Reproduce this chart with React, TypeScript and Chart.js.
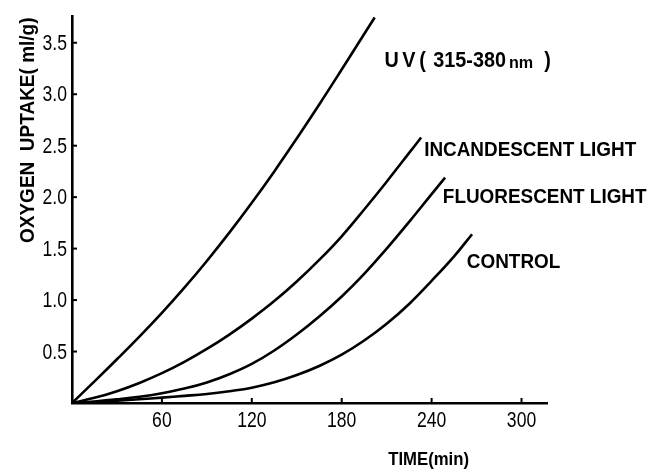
import React, { useEffect, useRef } from "react";
import { Chart, registerables } from "chart.js";

Chart.register(...registerables);

// ---- data ----
const uvTime = [0, 15, 30, 45, 60, 75, 90, 105, 120, 135, 150, 165, 180, 195, 202];
const uvUptake = [0, 0.21, 0.425, 0.645, 0.875, 1.12, 1.38, 1.655, 1.945, 2.25, 2.57, 2.9, 3.24, 3.585, 3.745];

const incTime = [0, 15, 30, 45, 60, 75, 90, 105, 120, 135, 150, 165, 180, 195, 210, 225, 233];
const incUptake = [0, 0.05, 0.115, 0.195, 0.29, 0.4, 0.525, 0.665, 0.82, 0.99, 1.18, 1.39, 1.62, 1.88, 2.15, 2.43, 2.58];

const fluTime = [0, 15, 30, 45, 60, 75, 90, 105, 120, 135, 150, 165, 180, 195, 210, 225, 240, 249];
const fluUptake = [0, 0.015, 0.035, 0.06, 0.095, 0.14, 0.2, 0.28, 0.38, 0.51, 0.665, 0.84, 1.035, 1.255, 1.5, 1.76, 2.03, 2.19];

const ctlTime = [0, 15, 30, 45, 60, 75, 90, 105, 120, 135, 150, 165, 180, 195, 210, 225, 240, 255, 267];
const ctlUptake = [0, 0.01, 0.023, 0.037, 0.052, 0.069, 0.088, 0.115, 0.149, 0.201, 0.272, 0.36, 0.47, 0.607, 0.77, 0.962, 1.187, 1.425, 1.64];

const xTickValues = [60, 120, 180, 240, 300];
const yTickValues = [0.5, 1.0, 1.5, 2.0, 2.5, 3.0, 3.5];
const xMin = 0;
const xMax = 317;
const yMin = 0;
const yMax = 3.76;

const seriesNames = ["UV( 315-380 nm)", "INCANDESCENT LIGHT", "FLUORESCENT LIGHT", "CONTROL"];
const nameTime = [208.5, 235, 247.5, 263.5];
const nameUptake = [3.32, 2.46, 2.0, 1.37];

const xAxisTitle = "TIME(min)";
const yAxisTitle = "OXYGEN  UPTAKE( ml/g)";
const xTitleTime = 238;
const yTitleUptake = 2.65;

const LABEL_FONT = '"Liberation Sans", Arial, "DejaVu Sans", sans-serif';
const TICK_FONT = '"Liberation Sans", Arial, sans-serif';

function pts(t: number[], v: number[]) {
  return t.map((x, i) => ({ x, y: v[i] }));
}

// draw text squeezed horizontally (condensed look of the original lettering)
function squeezed(ctx: CanvasRenderingContext2D, text: string, x: number, y: number, align: "left" | "center" | "right", sx: number) {
  const w = ctx.measureText(text).width * sx;
  let left = x;
  if (align === "center") left = x - w / 2;
  if (align === "right") left = x - w;
  ctx.save();
  ctx.translate(left, y);
  ctx.scale(sx, 1);
  ctx.textAlign = "left";
  ctx.fillText(text, 0, 0);
  ctx.restore();
  return w;
}

const decorate = {
  id: "decorate",
  afterDraw(chart: any) {
    const { ctx, chartArea } = chart;
    const x = chart.scales.x;
    const y = chart.scales.y;
    ctx.save();
    ctx.strokeStyle = "#000";
    ctx.fillStyle = "#000";
    ctx.lineWidth = 2;
    // inward tick marks
    xTickValues.forEach((v) => {
      const px = x.getPixelForValue(v);
      ctx.beginPath();
      ctx.moveTo(px, chartArea.bottom);
      ctx.lineTo(px, chartArea.bottom - 5);
      ctx.stroke();
    });
    yTickValues.forEach((v) => {
      const py = y.getPixelForValue(v);
      ctx.beginPath();
      ctx.moveTo(chartArea.left, py);
      ctx.lineTo(chartArea.left + 5, py);
      ctx.stroke();
    });

    // tick labels
    ctx.textBaseline = "middle";
    ctx.font = `22px ${TICK_FONT}`;
    xTickValues.forEach((v) => {
      squeezed(ctx, String(v), x.getPixelForValue(v), chartArea.bottom + 18, "center", 0.8);
    });
    yTickValues.forEach((v) => {
      squeezed(ctx, v.toFixed(1), chartArea.left - 5, y.getPixelForValue(v) + 1, "right", 0.8);
    });

    // series names
    seriesNames.forEach((name, i) => {
      let px = x.getPixelForValue(nameTime[i]);
      const py = y.getPixelForValue(nameUptake[i]);
      const m = name.match(/^(\S+)\s(\S+)\s(nm)(\))$/);
      if (m) {
        ctx.font = `bold 22px ${LABEL_FONT}`;
        (ctx as any).letterSpacing = "4px";
        px += squeezed(ctx, m[1], px, py, "left", 0.9) + 4;
        (ctx as any).letterSpacing = "0px";
        px += squeezed(ctx, m[2], px, py, "left", 0.9) + 3;
        ctx.font = `bold 17px ${LABEL_FONT}`;
        px += squeezed(ctx, m[3], px, py + 2, "left", 0.95) + 11;
        ctx.font = `bold 22px ${LABEL_FONT}`;
        squeezed(ctx, m[4], px, py, "left", 0.9);
      } else {
        ctx.font = `bold 21px ${LABEL_FONT}`;
        squeezed(ctx, name, px, py, "left", 0.9);
      }
    });

    // axis titles
    ctx.font = `bold 18px ${LABEL_FONT}`;
    squeezed(ctx, xAxisTitle, x.getPixelForValue(xTitleTime), 460, "center", 0.93);
    ctx.translate(28, y.getPixelForValue(yTitleUptake));
    ctx.rotate(-Math.PI / 2);
    ctx.font = `bold 20px ${LABEL_FONT}`;
    squeezed(ctx, yAxisTitle, 0, 0, "center", 0.95);
    ctx.restore();
  },
};

export default function App() {
  const ref = useRef<HTMLCanvasElement | null>(null);

  useEffect(() => {
    if (!ref.current) return;
    const line = { borderColor: "#000", borderWidth: 2.6, pointRadius: 0, tension: 0.4, fill: false };
    const chart = new Chart(ref.current, {
      type: "line",
      data: {
        datasets: [
          { label: seriesNames[0], data: pts(uvTime, uvUptake), ...line },
          { label: seriesNames[1], data: pts(incTime, incUptake), ...line },
          { label: seriesNames[2], data: pts(fluTime, fluUptake), ...line },
          { label: seriesNames[3], data: pts(ctlTime, ctlUptake), ...line },
        ],
      },
      options: {
        animation: false,
        responsive: false,
        maintainAspectRatio: false,
        layout: { padding: { top: 16, right: 107, left: 0, bottom: 0 } },
        plugins: { legend: { display: false }, tooltip: { enabled: false } },
        scales: {
          x: {
            type: "linear",
            min: xMin,
            max: xMax,
            afterBuildTicks: (s: any) => {
              s.ticks = xTickValues.map((v) => ({ value: v }));
            },
            afterFit: (s: any) => {
              s.height = 69;
            },
            grid: { display: false, drawTicks: false },
            border: { display: true, color: "#000", width: 2.6 },
            ticks: { display: false },
          },
          y: {
            type: "linear",
            min: yMin,
            max: yMax,
            afterBuildTicks: (s: any) => {
              s.ticks = yTickValues.map((v) => ({ value: v }));
            },
            afterFit: (s: any) => {
              s.width = 72;
            },
            grid: { display: false, drawTicks: false },
            border: { display: true, color: "#000", width: 2.6 },
            ticks: { display: false },
          },
        },
      },
      plugins: [decorate],
    });
    return () => chart.destroy();
  }, []);

  return (
    <div style={{ position: "fixed", left: 0, top: 0, width: 654, height: 472, background: "#fff" }}>
      <canvas ref={ref} width={654} height={472} style={{ display: "block" }} />
    </div>
  );
}
